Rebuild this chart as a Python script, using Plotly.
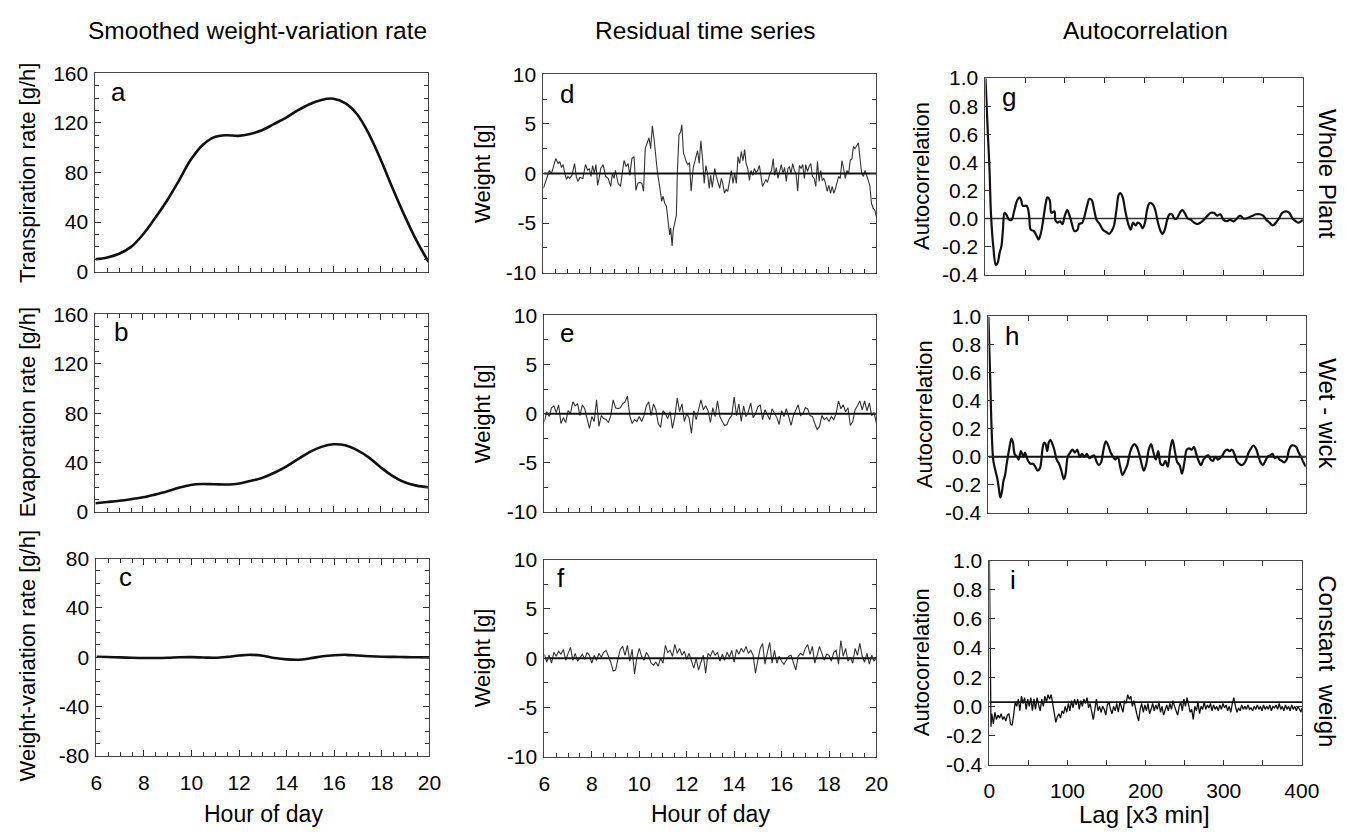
import plotly.graph_objects as go

W, H = 1367, 838
FONT = "Liberation Sans, Arial, sans-serif"

# ---------------- data ----------------
hours_half = [6, 6.5, 7, 7.5, 8, 8.5, 9, 9.5, 10, 10.5, 11, 11.5, 12, 12.5, 13,
              13.5, 14, 14.5, 15, 15.5, 16, 16.5, 17, 17.5, 18, 18.5, 19, 19.5, 20]
transpiration = [10, 11.5, 14.5, 20, 30, 43, 57, 73, 90, 102, 108.5, 110, 109.5, 111, 114,
                 119, 124, 130, 135, 138.5, 139.5, 136, 127, 111, 90, 67, 45, 25, 8]
evaporation = [7, 8, 9, 10.3, 11.8, 14, 16.5, 19.5, 21.8, 22.6, 22.4, 22.2, 22.8, 25, 27.5,
               31.5, 36.5, 42.5, 48.5, 52.7, 54.8, 54, 50, 44, 36, 29, 24, 21.3, 20]
weight_var = [0.4, 0.2, -0.1, -0.4, -0.6, -0.6, -0.4, 0.0, 0.1, -0.2, -0.4, 0.3, 1.4, 2.0, 1.2,
              -0.6, -1.7, -2.0, -0.8, 0.8, 1.7, 2.0, 1.4, 0.8, 0.4, 0.3, 0.1, 0.0, -0.1]

# residual of whole plant (hour, grams)
d_points = [
    (6.00, -1.5), (6.14, -0.5), (6.25, 0.3), (6.34, 0.0), (6.41, 0.5), (6.52, 1.5), (6.62, 1.0), (6.69, 1.2), (6.76, 0.6), (6.83, 0.9),
    (6.90, 0.0), (6.97, -0.6), (7.03, -0.3), (7.10, -0.5), (7.20, -0.2), (7.31, 1.0), (7.38, -0.3), (7.45, -0.8), (7.54, -0.4), (7.66, -0.5),
    (7.77, 0.9), (7.86, 0.3), (7.93, 0.5), (8.00, -0.3), (8.07, 0.8), (8.14, 0.0), (8.21, 0.9), (8.28, -1.2), (8.34, -0.5), (8.41, 0.5),
    (8.51, 0.9), (8.62, -0.3), (8.72, -0.5), (8.83, -1.3), (8.90, 0.0), (8.97, -0.5), (9.03, 0.3), (9.14, -1.0), (9.24, -1.3), (9.31, -0.2),
    (9.39, 1.3), (9.48, 0.7), (9.56, 1.0), (9.63, -0.2), (9.72, 1.5), (9.81, 1.7), (9.89, -1.7), (9.97, -1.0), (10.04, -0.9), (10.14, -1.0),
    (10.21, -1.8), (10.28, 2.5), (10.37, 3.2), (10.44, 3.6), (10.51, 2.5), (10.58, 4.8), (10.65, 3.5), (10.72, 1.5), (10.80, 0.0), (10.90, -1.5),
    (10.97, -2.8), (11.03, -2.3), (11.10, -3.0), (11.17, -3.3), (11.24, -4.5), (11.31, -6.2), (11.35, -5.5), (11.41, -7.3), (11.46, -5.7), (11.52, -5.0),
    (11.59, -4.2), (11.63, 0.0), (11.70, 3.9), (11.77, 4.2), (11.82, 4.9), (11.89, 2.0), (11.93, 1.8), (12.00, 1.2), (12.07, 0.9), (12.14, 1.1),
    (12.21, -1.8), (12.30, 0.6), (12.41, 1.5), (12.48, 2.3), (12.55, 1.0), (12.62, 3.3), (12.69, 1.5), (12.76, -1.0), (12.83, 0.8), (12.90, 0.0),
    (12.97, -1.5), (13.03, -0.2), (13.10, -1.4), (13.20, 0.5), (13.27, -0.3), (13.34, -1.0), (13.41, -1.5), (13.48, -0.5), (13.54, -1.0), (13.61, -2.0),
    (13.68, -1.6), (13.75, -1.8), (13.83, -0.8), (13.90, 0.3), (13.97, -1.0), (14.04, 0.0), (14.11, -1.0), (14.18, 1.7), (14.25, 1.0), (14.32, 2.2),
    (14.39, 1.3), (14.46, 2.4), (14.52, 1.0), (14.59, 0.5), (14.66, -0.7), (14.73, 0.3), (14.80, -0.2), (14.87, 0.5), (14.94, 0.1), (15.01, 0.3),
    (15.08, 0.8), (15.14, -0.3), (15.21, -1.3), (15.28, -1.0), (15.35, -0.6), (15.42, -0.9), (15.52, 0.0), (15.59, 0.3), (15.66, 1.5), (15.72, -0.2),
    (15.79, 0.6), (15.86, -0.5), (15.93, 0.3), (16.00, 0.9), (16.07, 0.0), (16.14, 0.6), (16.21, -0.8), (16.28, 0.5), (16.34, 0.7), (16.41, 0.0),
    (16.48, 1.0), (16.55, 0.3), (16.62, 0.0), (16.69, -1.8), (16.76, 0.8), (16.83, 0.5), (16.90, 0.9), (16.97, -0.5), (17.03, 0.9), (17.10, 0.2),
    (17.17, 0.7), (17.24, 1.0), (17.31, -0.3), (17.38, -0.5), (17.45, -1.3), (17.52, 1.2), (17.59, -0.8), (17.66, 0.3), (17.72, -0.7), (17.79, -0.5),
    (17.86, -1.0), (17.93, -1.8), (18.00, -1.2), (18.07, -2.0), (18.14, -1.3), (18.21, -2.0), (18.28, -1.5), (18.34, -1.0), (18.41, -0.3), (18.48, -0.5),
    (18.55, 1.3), (18.62, 0.5), (18.69, -0.5), (18.76, 0.3), (18.83, 0.0), (18.90, 1.3), (18.97, 1.5), (19.03, 2.7), (19.10, 2.5), (19.17, 2.8),
    (19.24, 3.1), (19.31, 1.5), (19.38, 0.0), (19.45, -0.3), (19.52, 0.3), (19.59, -0.2), (19.66, -0.8), (19.72, -1.2), (19.79, -3.0), (19.86, -3.5),
    (19.93, -3.7), (20.00, -4.4)]

# residuals of wet wick and constant weight, one value every 0.1 h from 6.0 to 20.0
hours_tenth = [round(6 + k / 10, 1) for k in range(141)]
e_weight = [
    -0.8, 0.2, -0.3, 0.6, 0.8, 0.1, 0.9, -1.0, -0.4, -0.9,
    0.3, 0.0, 1.2, 0.8, 1.0, -0.2, 0.9, 0.5, -0.5, -1.5,
    -0.3, -0.8, 1.4, -1.3, -0.2, -0.5, -0.6, -0.9, -0.2, 1.4,
    0.6, 0.5, 0.6, 1.0, 1.2, 1.8, -0.2, -1.0, -0.6, -0.8,
    -0.3, -0.8, -0.2, 0.8, 1.2, -0.2, 1.0, 0.4, -1.0, -1.4,
    0.3, 0.0, -0.5, 0.2, -1.5, -0.3, 1.6, 0.2, 1.0, -0.8,
    0.0, -0.4, -2.0, 0.3, -0.6, 0.4, 1.4, 0.4, 0.8, 0.3,
    -0.9, 0.6, -0.3, 1.3, -0.3, -0.8, -1.2, -1.1, -0.5, -0.2,
    1.7, -0.2, 1.0, -0.8, 0.8, -0.3, 0.2, 1.1, -0.4, 0.0,
    0.7, 0.9, -0.6, 0.4, -0.2, -0.6, 0.5, 0.1, -0.4, -1.1,
    0.3, -0.3, 0.5, -0.3, -1.2, -0.2, 0.4, 0.9, -0.2, 0.0,
    0.6, 0.5, -0.2, -0.3, -1.0, -1.6, -1.3, -0.2, -0.6, -0.4,
    -0.8, -0.3, -0.6, 0.0, 1.3, 0.5, 0.9, 0.2, 0.6, -1.2,
    -0.8, 0.4, 0.8, 1.3, 0.4, 1.3, 0.3, 1.1, -0.2, 0.1,
    -1.0]
f_weight = [
    0.4, -0.4, 0.3, -0.5, 0.6, 0.2, 0.7, 0.4, 0.9, -0.2,
    0.5, 1.1, -0.2, 0.5, -0.3, 0.0, 0.4, -0.1, 0.6, 0.3,
    -0.5, 0.3, -0.2, 0.5, 0.1, 0.6, 0.8, 0.2, -0.4, -1.3,
    -1.2, -0.1, 0.9, 1.2, 0.3, 1.3, -0.3, 0.9, -1.6, 0.1,
    1.0, 0.2, -0.2, 0.6, 0.2, -0.5, -0.7, -0.4, -0.8, 0.0,
    -0.5, 1.3, 0.6, 0.8, 0.2, 1.4, 0.5, 1.0, 0.3, 0.7,
    -0.1, 0.5, -0.3, -1.0, 0.0, -1.2, -0.4, 0.3, -1.5, 0.5,
    0.2, 0.8, 0.3, 0.6, -0.3, 0.4, -0.2, 0.6, 0.1, 0.8,
    -0.4, 0.9, 0.4, 1.0, 0.6, 1.2, 0.5, 0.8, 0.3, -1.5,
    -0.2, 1.0, 1.5, -0.6, 0.6, 1.6, -0.5, 0.8, -0.5, 0.2,
    -0.3, -0.6, -0.2, 0.2, 0.3, -0.4, -1.2, 0.2, 0.5, 0.3,
    1.0, 1.4, 0.4, 1.2, -0.5, 0.3, 1.2, 0.5, -0.2, 0.4,
    0.3, -0.3, 0.6, 0.8, -0.6, 1.8, 0.2, 1.0, -0.3, 0.1,
    -0.5, 1.0, 0.3, 1.5, 0.2, -0.4, 0.5, -0.6, 0.3, -0.3,
    0.1]

# autocorrelation (lag, r)
g_points = [
    (0, 1.0), (3, 0.6), (5, 0.36), (7, 0.02), (10, -0.21), (13, -0.33), (15, -0.32), (18, -0.24), (20, -0.2), (22, -0.08),
    (24, 0.04), (26, 0.03), (30, -0.01), (33, -0.01), (36, 0.05), (40, 0.13), (43, 0.15), (45, 0.13), (47, 0.09), (52, 0.09),
    (55, 0.02), (57, -0.08), (61, -0.09), (65, -0.13), (67, -0.15), (70, -0.1), (73, 0.0), (76, 0.11), (78, 0.15), (81, 0.13),
    (83, 0.04), (87, 0.05), (88, -0.01), (91, -0.03), (94, -0.02), (97, -0.04), (100, 0.02), (103, 0.06), (106, 0.02), (109, -0.04),
    (112, -0.09), (116, -0.08), (118, -0.04), (122, -0.03), (125, 0.02), (128, 0.09), (131, 0.14), (134, 0.13), (137, 0.06), (140, -0.01),
    (144, -0.04), (148, -0.08), (153, -0.1), (156, -0.11), (159, -0.09), (162, -0.05), (165, 0.06), (168, 0.17), (170, 0.18), (173, 0.15),
    (176, 0.06), (180, -0.04), (183, -0.08), (186, -0.03), (189, -0.05), (192, -0.03), (195, -0.04), (198, -0.07), (201, -0.03), (204, 0.07),
    (207, 0.11), (211, 0.10), (214, 0.06), (217, -0.02), (220, -0.08), (223, -0.11), (226, -0.08), (229, -0.01), (232, 0.03), (235, 0.03),
    (238, 0.0), (241, 0.0), (245, 0.04), (248, 0.06), (251, 0.04), (255, 0.0), (259, -0.01), (263, -0.03), (267, -0.04), (271, -0.03),
    (275, -0.01), (280, 0.02), (284, 0.04), (288, 0.04), (292, 0.02), (296, 0.03), (300, -0.01), (304, -0.02), (308, -0.01), (313, -0.02),
    (317, 0.0), (321, 0.02), (325, 0.0), (329, 0.0), (333, 0.01), (337, 0.02), (341, 0.03), (346, 0.03), (350, 0.02), (354, -0.01),
    (358, -0.03), (362, -0.05), (366, -0.03), (370, 0.0), (374, 0.04), (379, 0.05), (383, 0.04), (387, 0.0), (391, -0.02), (395, -0.03),
    (400, -0.01)]
h_points = [
    (0, 1.0), (2, 0.6), (4, 0.2), (6, -0.02), (8, -0.08), (11, -0.15), (13, -0.22), (15, -0.29), (17, -0.25), (19, -0.17),
    (21, -0.13), (23, -0.05), (26, 0.05), (29, 0.13), (31, 0.10), (33, 0.02), (36, 0.0), (38, -0.02), (41, 0.04), (44, 0.0),
    (46, 0.03), (48, 0.0), (50, -0.03), (53, -0.05), (56, -0.05), (59, -0.07), (62, -0.10), (65, -0.08), (68, 0.05), (70, 0.10),
    (72, 0.09), (74, 0.04), (76, 0.10), (78, 0.12), (80, 0.10), (83, 0.05), (86, -0.02), (89, -0.05), (92, -0.10), (95, -0.16),
    (97, -0.13), (100, 0.0), (103, 0.03), (106, 0.05), (109, 0.03), (112, 0.05), (115, 0.0), (118, 0.02), (121, 0.0), (124, 0.02),
    (127, -0.01), (130, 0.0), (133, 0.01), (136, -0.03), (139, -0.06), (142, -0.04), (145, 0.05), (148, 0.11), (151, 0.08), (154, 0.03),
    (157, 0.0), (160, -0.02), (163, 0.0), (166, -0.07), (169, -0.13), (172, -0.10), (175, -0.06), (178, 0.02), (181, 0.07), (184, 0.09),
    (187, 0.07), (190, 0.02), (193, -0.05), (196, -0.10), (199, -0.05), (202, 0.05), (205, 0.09), (208, 0.03), (211, -0.02), (214, 0.04),
    (217, -0.05), (220, -0.06), (223, -0.03), (226, -0.07), (229, 0.05), (232, 0.12), (235, 0.04), (238, -0.04), (241, -0.06), (244, -0.12),
    (247, -0.04), (250, 0.05), (253, 0.06), (256, 0.05), (259, 0.07), (262, 0.02), (265, -0.03), (268, -0.06), (271, -0.02), (274, 0.0),
    (277, 0.01), (280, -0.02), (283, -0.03), (286, 0.0), (289, -0.02), (292, -0.01), (295, 0.01), (298, 0.04), (301, 0.05), (304, 0.04),
    (307, 0.05), (310, 0.02), (313, -0.03), (316, -0.05), (319, -0.06), (322, -0.05), (325, -0.02), (328, 0.03), (331, 0.06), (334, 0.08),
    (337, 0.06), (340, 0.01), (343, -0.04), (346, -0.06), (349, -0.03), (352, 0.0), (355, 0.01), (358, 0.02), (361, -0.01), (364, 0.0),
    (367, -0.02), (370, -0.03), (373, -0.04), (376, -0.02), (379, 0.05), (382, 0.08), (385, 0.08), (388, 0.07), (391, 0.03), (394, 0.0),
    (397, -0.04), (400, -0.07)]
i_lag = [0, 1, 2] + list(range(3, 400, 2)) + [400]
i_acf = [1.0, 0.15, -0.14,
    -0.05, -0.12, -0.04, -0.09, -0.06, -0.08, -0.05, -0.09, -0.07, -0.10,
    -0.06, -0.05, -0.12, -0.13, -0.06, 0.03, 0.0, 0.05, -0.03, 0.07,
    0.02, 0.06, -0.02, 0.05, 0.0, 0.06, -0.03, 0.05, -0.02, 0.06,
    0.01, -0.03, 0.05, 0.0, 0.07, 0.03, 0.08, 0.05, 0.08, 0.02,
    -0.05, -0.11, -0.07, -0.05, -0.08, -0.03, -0.05, 0.0, -0.04, 0.02,
    -0.03, 0.04, -0.01, 0.05, 0.01, 0.05, -0.02, 0.04, 0.0, 0.05,
    0.02, 0.06, -0.01, 0.02, -0.04, -0.09, -0.02, 0.05, -0.03, 0.0,
    -0.04, 0.0, -0.02, -0.06, 0.01, 0.03, -0.02, -0.05, 0.0, -0.03,
    0.02, -0.04, 0.03, 0.0, -0.04, 0.04, 0.02, 0.08, 0.05, 0.07,
    0.0, 0.04, -0.02, -0.06, -0.1, -0.02, 0.02, -0.04, 0.01, -0.03,
    0.02, -0.05, -0.02, 0.02, -0.03, 0.01, -0.02, 0.03, -0.04, 0.0,
    -0.06, -0.02, 0.01, -0.03, 0.02, -0.02, 0.04, 0.0, -0.03, -0.06,
    0.0, 0.03, -0.03, 0.05, 0.0, 0.06, 0.01, -0.04, -0.02, -0.09,
    0.0, -0.03, 0.03, -0.05, 0.0, -0.02, 0.03, -0.02, 0.01, -0.01,
    0.02, -0.03, 0.01, -0.02, 0.0, -0.03, 0.01, -0.02, 0.02, -0.01,
    0.01, -0.03, 0.0, -0.04, 0.02, 0.06, 0.0, -0.04, -0.01, -0.03,
    0.01, -0.02, 0.0, -0.02, 0.01, -0.02, -0.01, -0.03, 0.0, -0.02,
    0.01, -0.02, 0.0, -0.03, 0.01, -0.02, 0.0, -0.02, 0.01, -0.03,
    0.0, -0.01, 0.01, -0.02, 0.02, -0.02, 0.0, -0.03, 0.01, -0.02,
    0.0, -0.03, 0.01, -0.02, 0.0, -0.03, 0.0, -0.02, -0.04,
    -0.01]
i_ref_level = 0.03

# tick labels (hyphen minus, as in the original)
hour_ticks = [6, 8, 10, 12, 14, 16, 18, 20]
lag_ticks = [0, 100, 200, 300, 400]
rate_ticks = [0, 40, 80, 120, 160]
wvar_ticks = [-80, -40, 0, 40, 80]
weight_ticks = [-10, -5, 0, 5, 10]
acf_ticks = [-0.4, -0.2, 0.0, 0.2, 0.4, 0.6, 0.8, 1.0]
acf_ticklabels = ["-0.4", "-0.2", "0.0", "0.2", "0.4", "0.6", "0.8", "1.0"]

col_titles = ["Smoothed weight-variation rate", "Residual time series", "Autocorrelation"]
row_labels = ["Whole Plant", "Wet - wick", "Constant  weigh"]
y_titles = ["Transpiration rate [g/h]", "Evaporation rate [g/h]", "Weight-variation rate [g/h]",
            "Weight [g]", "Weight [g]", "Weight [g]",
            "Autocorrelation", "Autocorrelation", "Autocorrelation"]
panel_letters = list("abcdefghi")

# ---------------- layout geometry (pixels) ----------------
boxes = {  # left, right, top, bottom
    1: (91, 430, 63, 267), 2: (91, 430, 311, 514), 3: (92, 431, 562, 765),
    4: (547, 886, 64, 268), 5: (548, 886, 312, 514), 6: (548, 886, 563, 766),
    7: (997, 1320, 68, 270), 8: (1000, 1323, 313, 515), 9: (1001, 1319, 564, 774),
}

def px(x):
    return x / W

def py(y):
    return 1 - y / H

fig = go.Figure()
DARK = "#111111"

def add(n, x, y, width, color=DARK, shape="linear"):
    fig.add_trace(go.Scatter(x=list(x), y=list(y), mode="lines",
                             line=dict(color=color, width=width, shape=shape),
                             xaxis=f"x{n}", yaxis=f"y{n}", showlegend=False, hoverinfo="skip"))

add(1, hours_half, transpiration, 2.6, shape="spline")
add(2, hours_half, evaporation, 2.6, shape="spline")
add(3, hours_half, weight_var, 2.6, shape="spline")

dh, dw = zip(*d_points)
add(4, dh, dw, 1.1, color="#333333")
add(4, [6, 20], [0, 0], 2.0)
add(5, hours_tenth, e_weight, 1.1, color="#333333")
add(5, [6, 20], [0, 0], 2.0)
add(6, hours_tenth, f_weight, 1.1, color="#333333")
add(6, [6, 20], [0, 0], 2.0)

gl, gv = zip(*g_points)
add(7, [0, 400], [0, 0], 1.5, color="#333333")
add(7, gl, gv, 2.2, shape="spline")
hl, hv = zip(*h_points)
add(8, [0, 400], [0, 0], 2.0)
add(8, hl, hv, 2.2, shape="spline")
add(9, i_lag, i_acf, 1.3)
add(9, [0, 410], [i_ref_level, i_ref_level], 1.8)

tickfont = dict(family=FONT, size=21, color="black")
layout = dict(width=W, height=H, margin=dict(l=0, r=0, t=0, b=0),
              paper_bgcolor="white", plot_bgcolor="white", showlegend=False)

y_ticks = {1: (0, 160, rate_ticks, 10), 2: (0, 160, rate_ticks, 10), 3: (-80, 80, wvar_ticks, 10),
           4: (-10, 10, weight_ticks, 2.5), 5: (-10, 10, weight_ticks, 2.5), 6: (-10, 10, weight_ticks, 2.5),
           7: (-0.4, 1.0, acf_ticks, None), 8: (-0.4, 1.0, acf_ticks, None), 9: (-0.4, 1.0, acf_ticks, None)}
top_ticks = {1: False, 2: True, 3: True, 4: False, 5: False, 6: False, 7: True, 8: True, 9: True}

for n in range(1, 10):
    l, r, t, b = boxes[n]
    acf = n >= 7
    xa = dict(domain=[px(l), px(r)], anchor=f"y{n}", showgrid=False, zeroline=False,
              showline=True, linecolor="#444444", linewidth=1,
              mirror="ticks" if top_ticks[n] else True,
              ticks="inside", ticklen=6 if not acf else 5, tickwidth=1, tickcolor="#333333",
              showticklabels=n in (3, 6, 9), tickfont=tickfont,
              ticklabelstandoff=7 if acf else 8)
    if acf:
        xa.update(range=[0, 400], tickmode="array", tickvals=lag_ticks,
                  ticktext=[str(v) for v in lag_ticks],
                  minor=dict(dtick=50, tick0=0, ticks="inside", ticklen=5, tickcolor="#333333", showgrid=False))
    else:
        xa.update(range=[6, 20], tickmode="array", tickvals=hour_ticks,
                  ticktext=[str(v) for v in hour_ticks],
                  minor=dict(dtick=0.5, tick0=6, ticks="inside", ticklen=4, tickcolor="#333333", showgrid=False))
    lo, hi, tv, mdt = y_ticks[n]
    ttext = acf_ticklabels if acf else [str(v) for v in tv]
    ya = dict(domain=[py(b), py(t)], anchor=f"x{n}", range=[lo, hi], tickmode="array",
              tickvals=tv, ticktext=ttext,
              showgrid=False, zeroline=False, showline=True, linecolor="#444444", linewidth=1,
              mirror="ticks", ticks="inside", ticklen=6, tickwidth=1, tickcolor="#333333",
              tickfont=tickfont, ticklabelstandoff=2)
    if mdt:
        ya.update(minor=dict(dtick=mdt, tick0=lo, ticks="inside", ticklen=4, tickcolor="#333333", showgrid=False))
    layout[f"xaxis{n}"] = xa
    layout[f"yaxis{n}"] = ya

fig.update_layout(**layout)

ann = []
def text(x, y, s, size, angle=0, xanchor="center", yanchor="middle"):
    ann.append(dict(x=px(x), y=py(y), xref="paper", yref="paper", text=s, showarrow=False,
                    font=dict(family=FONT, size=size, color="black"), textangle=angle,
                    xanchor=xanchor, yanchor=yanchor))

for cx, s in zip([256, 712, 1160], col_titles):
    text(cx, 19, s, 24.5)
for cx, s in zip([262, 717], ["Hour of day", "Hour of day"]):
    text(cx, 825, s, 23)
text(1159, 825, "Lag [x3 min]", 24)
for cy, s in zip([167, 413, 668], row_labels):
    text(1345, cy, s, 24, angle=90)

yt_pos = {1: (22, 165), 2: (22, 412), 3: (22, 662), 4: (485, 166), 5: (485, 413), 6: (485, 664),
          7: (932, 169), 8: (935, 414), 9: (932, 669)}
for n in range(1, 10):
    x0, y0 = yt_pos[n]
    text(x0, y0, y_titles[n - 1], 22, angle=-90)

letter_pos = {1: (105, 82), 2: (108, 329), 3: (113, 581), 4: (562, 84), 5: (562, 330), 6: (559, 582),
              7: (1012, 87), 8: (1015, 333), 9: (1020, 584)}
for n in range(1, 10):
    x0, y0 = letter_pos[n]
    text(x0, y0, panel_letters[n - 1], 26, xanchor="left")

fig.update_layout(annotations=ann)
fig.write_html("out.html")
